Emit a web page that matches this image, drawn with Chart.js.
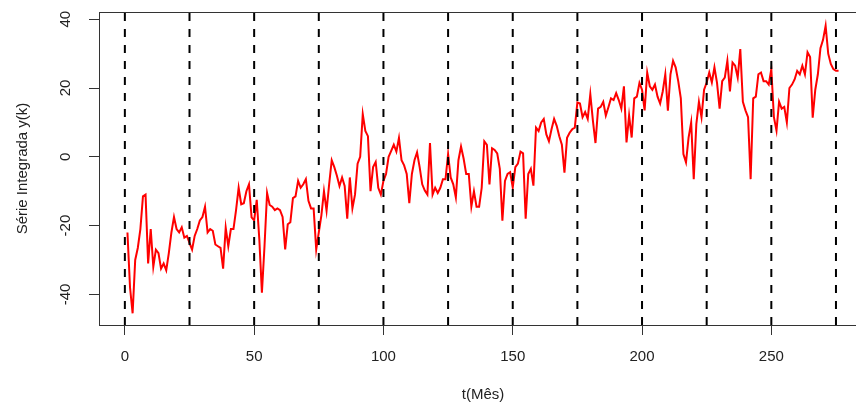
<!DOCTYPE html>
<html lang="pt">
<head>
<meta charset="utf-8">
<title>Série Integrada y(k)</title>
<script src="https://cdn.jsdelivr.net/npm/chart.js@4.4.1/dist/chart.umd.min.js"></script>
<style>
  html, body { margin: 0; padding: 0; background: #fff; overflow: hidden; }
  #wrap { position: relative; width: 870px; height: 406px; }
</style>
</head>
<body>
<div id="wrap"><canvas id="grafico"></canvas></div>
<script>
// --- DADOS ---
const serieIntegrada = [
  -22, -38, -45.5, -30, -26.5, -21, -11.5, -11, -31, -21,
  -32, -27, -28, -32.5, -31, -33, -28, -22, -17.5, -21,
  -22, -20.5, -23.5, -23, -25, -27, -23, -21, -18.5, -17.5,
  -14.5, -22, -21, -21.5, -25.5, -26, -26.5, -32.5, -20.6, -26,
  -21, -21, -15.5, -9, -13.8, -13.5, -10, -8, -17.6, -18.5,
  -12.5, -24, -39.5, -26, -10.5, -14, -14.5, -15.5, -15, -15.5,
  -17.5, -26.9, -19.6, -19, -12, -11.5, -7, -9, -8, -6.5,
  -12.8, -15, -15, -27, -22, -17, -10, -15.7, -8, -1,
  -3, -5.5, -8.5, -6, -8.5, -18, -6, -15, -11, -2,
  0, 12.4, 7.5, 6, -10, -3, -1.5, -9, -11, -7,
  -5, 0, 1.7, 3.5, 1.5, 5.5, -1, -2.5, -5, -13.5,
  -5, -1, 1.3, -3, -8, -9.8, -11, 4, -11, -9,
  -10.5, -9, -6.5, -6.5, 0.8, -6, -8, -11.8, -1, 3,
  -0.5, -5, -5, -14.5, -10, -14.5, -14.5, -9, 4.5, 3.5,
  -8, 2.5, 2, 1, -3.5, -18.6, -7, -5, -4.5, -8.9,
  -3, -2, 1.5, 1, -18, -5, -3.5, -8.4, 8.5, 7.5,
  10, 11, 6.5, 4.5, 8, 11, 9, 6, 3.5, -4.6,
  5.5, 7, 8, 8.5, 15.8, 15.5, 11.5, 13, 11, 18.2,
  10.5, 4, 14, 14.5, 16, 12, 14.4, 17, 16.5, 18.5,
  16.5, 14, 20.5, 4.2, 12, 5.6, 17, 17.5, 21.5, 19.5,
  13.5, 24.5, 20.5, 19.5, 21, 17.5, 15.5, 19, 24, 13.4,
  24, 27.9, 26, 22, 17, 0.8, -1.6, 5.6, 10, -6.5,
  9.5, 16, 11.5, 19.5, 21.6, 24.5, 21.6, 26, 21.5, 14,
  22, 23, 27.9, 19, 27.4, 26.5, 23, 31.3, 16, 13.5,
  11.5, -6.5, 17, 17.5, 24, 24.5, 22, 22, 21, 25.5,
  11.5, 7.6, 16, 14, 14.5, 10, 20, 21, 22.5, 25,
  24, 26.5, 24, 30.4, 29, 11.4, 19.5, 24, 31.6, 34,
  38.1, 30, 27, 25.5, 25, 25
];
const meses = serieIntegrada.map((_, i) => i + 1); // t = 1..276
const cortes = [0, 25, 50, 75, 100, 125, 150, 175, 200, 225, 250, 275];
const ticksX = [0, 50, 100, 150, 200, 250];
const ticksY = [-40, -20, 0, 20, 40];

// limites no estilo do R (4% de folga)
const X_MIN = -10, X_MAX = 287;
const Y_MIN = -48.9, Y_MAX = 42.1;

const FONTE = 'Liberation Sans, Arial, Helvetica, sans-serif';
const COR_TEXTO = '#222';

// caixa em volta da área do gráfico (box() do R)
const caixaPlugin = {
    id: 'caixa',
    afterDatasetsDraw(chart) {
        const { ctx, chartArea: a } = chart;
        ctx.save();
        ctx.strokeStyle = '#333';
        ctx.lineWidth = 1;
        ctx.strokeRect(Math.round(a.left) + 0.5, Math.round(a.top) + 0.5,
            Math.round(a.right - a.left), Math.round(a.bottom - a.top));
        ctx.restore();
    }
};

// linhas tracejadas verticais
const linhasCorte = cortes.map(c => ({
    data: [{ x: c, y: Y_MIN }, { x: c, y: Y_MAX }],
    borderColor: '#000',
    borderWidth: 2,
    borderDash: [8, 8],
    pointRadius: 0,
    order: 1
}));

const ctx = document.getElementById('grafico').getContext('2d');
new Chart(ctx, {
    type: 'line',
    data: {
        datasets: [
            {
                data: meses.map((t, i) => ({ x: t, y: serieIntegrada[i] })),
                borderColor: '#ff0000',
                borderWidth: 2,
                pointRadius: 0,
                tension: 0,
                order: 2
            },
            ...linhasCorte
        ]
    },
    options: {
        responsive: true,
        maintainAspectRatio: false,
        animation: false,
        layout: { padding: { top: 12, right: 3, left: 0, bottom: 0 } },
        plugins: {
            legend: { display: false },
            tooltip: { enabled: false }
        },
        scales: {
            x: {
                type: 'linear',
                min: X_MIN,
                max: X_MAX,
                afterBuildTicks: s => { s.ticks = ticksX.map(v => ({ value: v })); },
                afterFit: s => { s.height = 81; s.paddingLeft = 0; s.paddingRight = 0; },
                border: { display: false },
                grid: { drawOnChartArea: false, drawTicks: true, tickLength: 10, color: '#333' },
                ticks: {
                    padding: 13,
                    maxRotation: 0,
                    color: COR_TEXTO,
                    font: { family: FONTE, size: 15 }
                },
                title: {
                    display: true,
                    text: 't(Mês)',
                    color: COR_TEXTO,
                    font: { family: FONTE, size: 15 },
                    padding: { top: 0, bottom: 2 }
                }
            },
            y: {
                type: 'linear',
                min: Y_MIN,
                max: Y_MAX,
                afterBuildTicks: s => { s.ticks = ticksY.map(v => ({ value: v })); },
                afterFit: s => { s.width = 99; s.paddingTop = 0; s.paddingBottom = 0; },
                border: { display: false },
                grid: { drawOnChartArea: false, drawTicks: true, tickLength: 10, color: '#333' },
                ticks: {
                    padding: 12,
                    minRotation: 90,
                    maxRotation: 90,
                    crossAlign: 'center',
                    color: COR_TEXTO,
                    font: { family: FONTE, size: 15 }
                },
                title: {
                    display: true,
                    text: 'Série Integrada y(k)',
                    color: COR_TEXTO,
                    font: { family: FONTE, size: 15 },
                    padding: { top: 14, bottom: 0 }
                }
            }
        }
    },
    plugins: [caixaPlugin]
});
</script>
</body>
</html>
